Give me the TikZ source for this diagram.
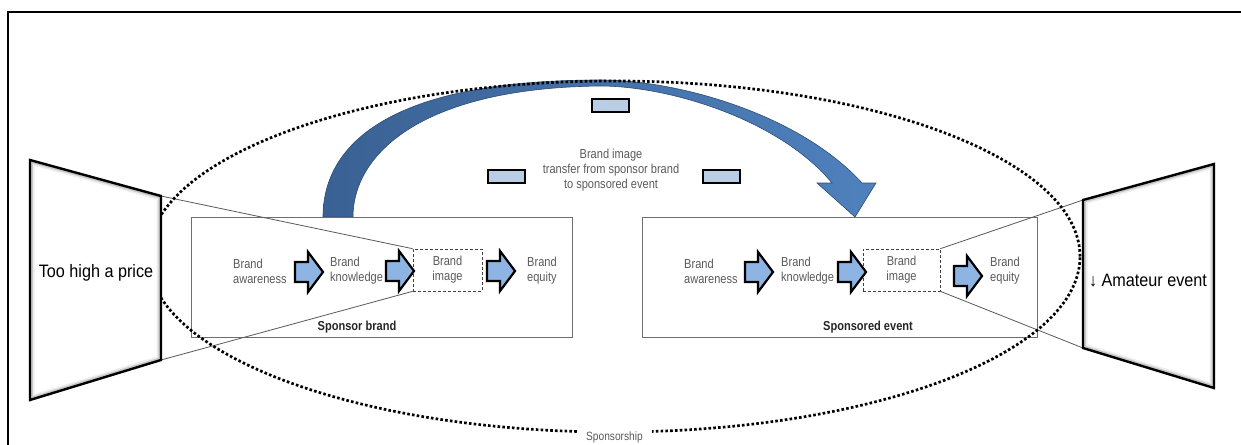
\documentclass[tikz,border=0pt]{standalone}
\usepackage{fontspec}
\setmainfont{Liberation Sans}
\newfontfamily\narrowsans{Liberation Sans}[FakeStretch=0.85]
\newfontfamily\widesans{Liberation Sans}[FakeStretch=0.9]
\usetikzlibrary{calc}

\definecolor{flowblue}{HTML}{8DB4E2}
\definecolor{tagblue}{HTML}{B9CDE5}
\definecolor{arcdark}{HTML}{3A6193}
\definecolor{arclight}{HTML}{4F81BD}
\definecolor{arcedge}{HTML}{2C4D75}
\definecolor{labelgrey}{HTML}{5A5A5A}
\definecolor{panelgrey}{HTML}{6E6E6E}

\tikzset{
  panel/.style={draw=panelgrey, line width=1pt, fill=white, inner sep=0pt},
  focusbox/.style={draw=black!75, densely dashed, line width=0.6pt, inner sep=0pt,
    font=\narrowsans\fontsize{13}{15}\selectfont, text=labelgrey, align=center},
  stagetext/.style={font=\narrowsans\fontsize{13}{15}\selectfont, text=labelgrey,
    align=left, inner sep=0pt},
  paneltitle/.style={font=\narrowsans\bfseries\fontsize{13}{15}\selectfont,
    text=black!85, inner sep=0pt},
  tag/.style={draw=black, line width=2pt, fill=tagblue, minimum width=37pt,
    minimum height=13pt, inner sep=0pt},
  lens/.style={draw=black, line width=2.4pt, line join=miter},
  lenstext/.style={font=\widesans\fontsize{18}{20}\selectfont, text=black, inner sep=0pt},
  zoomline/.style={draw=black!65, line width=0.8pt},
  flowarrow/.style={draw=black, line width=2.2pt, fill=flowblue, line join=miter},
  dotring/.style={draw=black, line width=2.7pt, dash pattern=on 2.6pt off 2.2pt},
  pics/stagearrow/.style={code={
    \path[flowarrow] (0,-10) -- (13,-10) -- (13,-20) -- (28,0) -- (13,20)
      -- (13,10) -- (0,10) -- cycle;}}
}

\begin{document}
\begin{tikzpicture}[x=1pt,y=-1pt]
\useasboundingbox (0,0) rectangle (1241,444);
\clip (0,0) rectangle (1241,444);

% outer frame
\draw[line width=2pt] (8,460) -- (8,12) -- (1260,12);

% curved transfer arrow from sponsor brand to sponsored event
\path[draw=arcedge, line width=0.6pt, left color=arcdark, right color=arclight]
  (323,217) .. controls (323,150) and (380,80) .. (600,80)
  .. controls (680,80) and (800,115) .. (862,183)
  -- (876,183) -- (855,217) -- (817,183) -- (832,183)
  .. controls (780,120) and (670,86) .. (600,86)
  .. controls (420,88) and (353,155) .. (353,217) -- cycle;

% transfer label and tags
\node[stagetext, align=center] (transfer) at (611,170)
  {Brand image\\transfer from sponsor brand\\to sponsored event};
\node[tag] (tagtop) at (610.5,105) {};
\node[tag] (tagleft) at (506,176.5) {};
\node[tag] (tagright) at (721.5,176.5) {};

% panels
\node[panel, minimum width=381pt, minimum height=120pt] (sponsor) at (381.5,277) {};
\node[panel, minimum width=395pt, minimum height=120pt] (event) at (839.5,277) {};

% sponsor brand chain
\node[stagetext, anchor=west] (saware) at (233,271) {Brand\\awareness};
\node[stagetext, anchor=west] (sknow) at (330,271) {Brand\\knowledge};
\node[focusbox, minimum width=69pt, minimum height=42pt] (simage) at (447.5,270) {Brand\\image};
\node[stagetext, anchor=west] (sequity) at (527,271) {Brand\\equity};
\node[paneltitle] (stitle) at (357,327) {Sponsor brand};

% sponsored event chain
\node[stagetext, anchor=west] (eaware) at (684,271) {Brand\\awareness};
\node[stagetext, anchor=west] (eknow) at (781,271) {Brand\\knowledge};
\node[focusbox, minimum width=77pt, minimum height=42pt] (eimage) at (901.5,270) {Brand\\image};
\node[stagetext, anchor=west] (eequity) at (990,271) {Brand\\equity};
\node[paneltitle] (etitle) at (868,327) {Sponsored event};

% lens corners
\coordinate (LA) at (30,160);
\coordinate (LB) at (161,196);
\coordinate (LC) at (161,360);
\coordinate (LD) at (30,400);
\coordinate (RA) at (1083,200);
\coordinate (RB) at (1214,164);
\coordinate (RC) at (1214,388);
\coordinate (RD) at (1083,348);

% zoom lines from the brand image boxes to the lenses
\draw[zoomline] (LB) -- (simage.north west);
\draw[zoomline] (LC) -- (simage.south west);
\draw[zoomline] (eimage.north east) -- (RA);
\draw[zoomline] (eimage.south east) -- (RD);

% stage arrows
\pic at (295,272) {stagearrow};
\pic at (386,271) {stagearrow};
\pic at (487,271) {stagearrow};
\pic at (745,272) {stagearrow};
\pic at (838,272) {stagearrow};
\pic at (954,276) {stagearrow};

% sponsorship ring
\draw[dotring] (614,256.5) ellipse [x radius=466pt, y radius=175.5pt];
\node[fill=white, inner xsep=9pt, inner ysep=2pt,
  font=\narrowsans\fontsize{12}{14}\selectfont, text=labelgrey] (ring) at (614.5,437) {Sponsorship};

% lenses
\fill[white] (LA) -- (LB) -- (LC) -- (LD) -- cycle;
\fill[white] (RA) -- (RB) -- (RC) -- (RD) -- cycle;
\begin{scope}
  \clip (LA) -- (LB) -- (LC) -- (LD) -- cycle;
  \draw[line width=9pt, black!7] (LA) -- (LB) -- (LC) -- (LD) -- cycle;
  \draw[line width=5.5pt, black!22] (LA) -- (LB) -- (LC) -- (LD) -- cycle;
\end{scope}
\begin{scope}
  \clip (RA) -- (RB) -- (RC) -- (RD) -- cycle;
  \draw[line width=9pt, black!7] (RA) -- (RB) -- (RC) -- (RD) -- cycle;
  \draw[line width=5.5pt, black!22] (RA) -- (RB) -- (RC) -- (RD) -- cycle;
\end{scope}
\draw[lens] (LA) -- (LB) -- (LC) -- (LD) -- cycle;
\draw[lens] (RA) -- (RB) -- (RC) -- (RD) -- cycle;
\node[lenstext, anchor=base] (price) at (96,277) {Too high a price};
\node[lenstext, anchor=base] (amateur) at (1148,286) {↓ Amateur event};
\end{tikzpicture}
\end{document}
